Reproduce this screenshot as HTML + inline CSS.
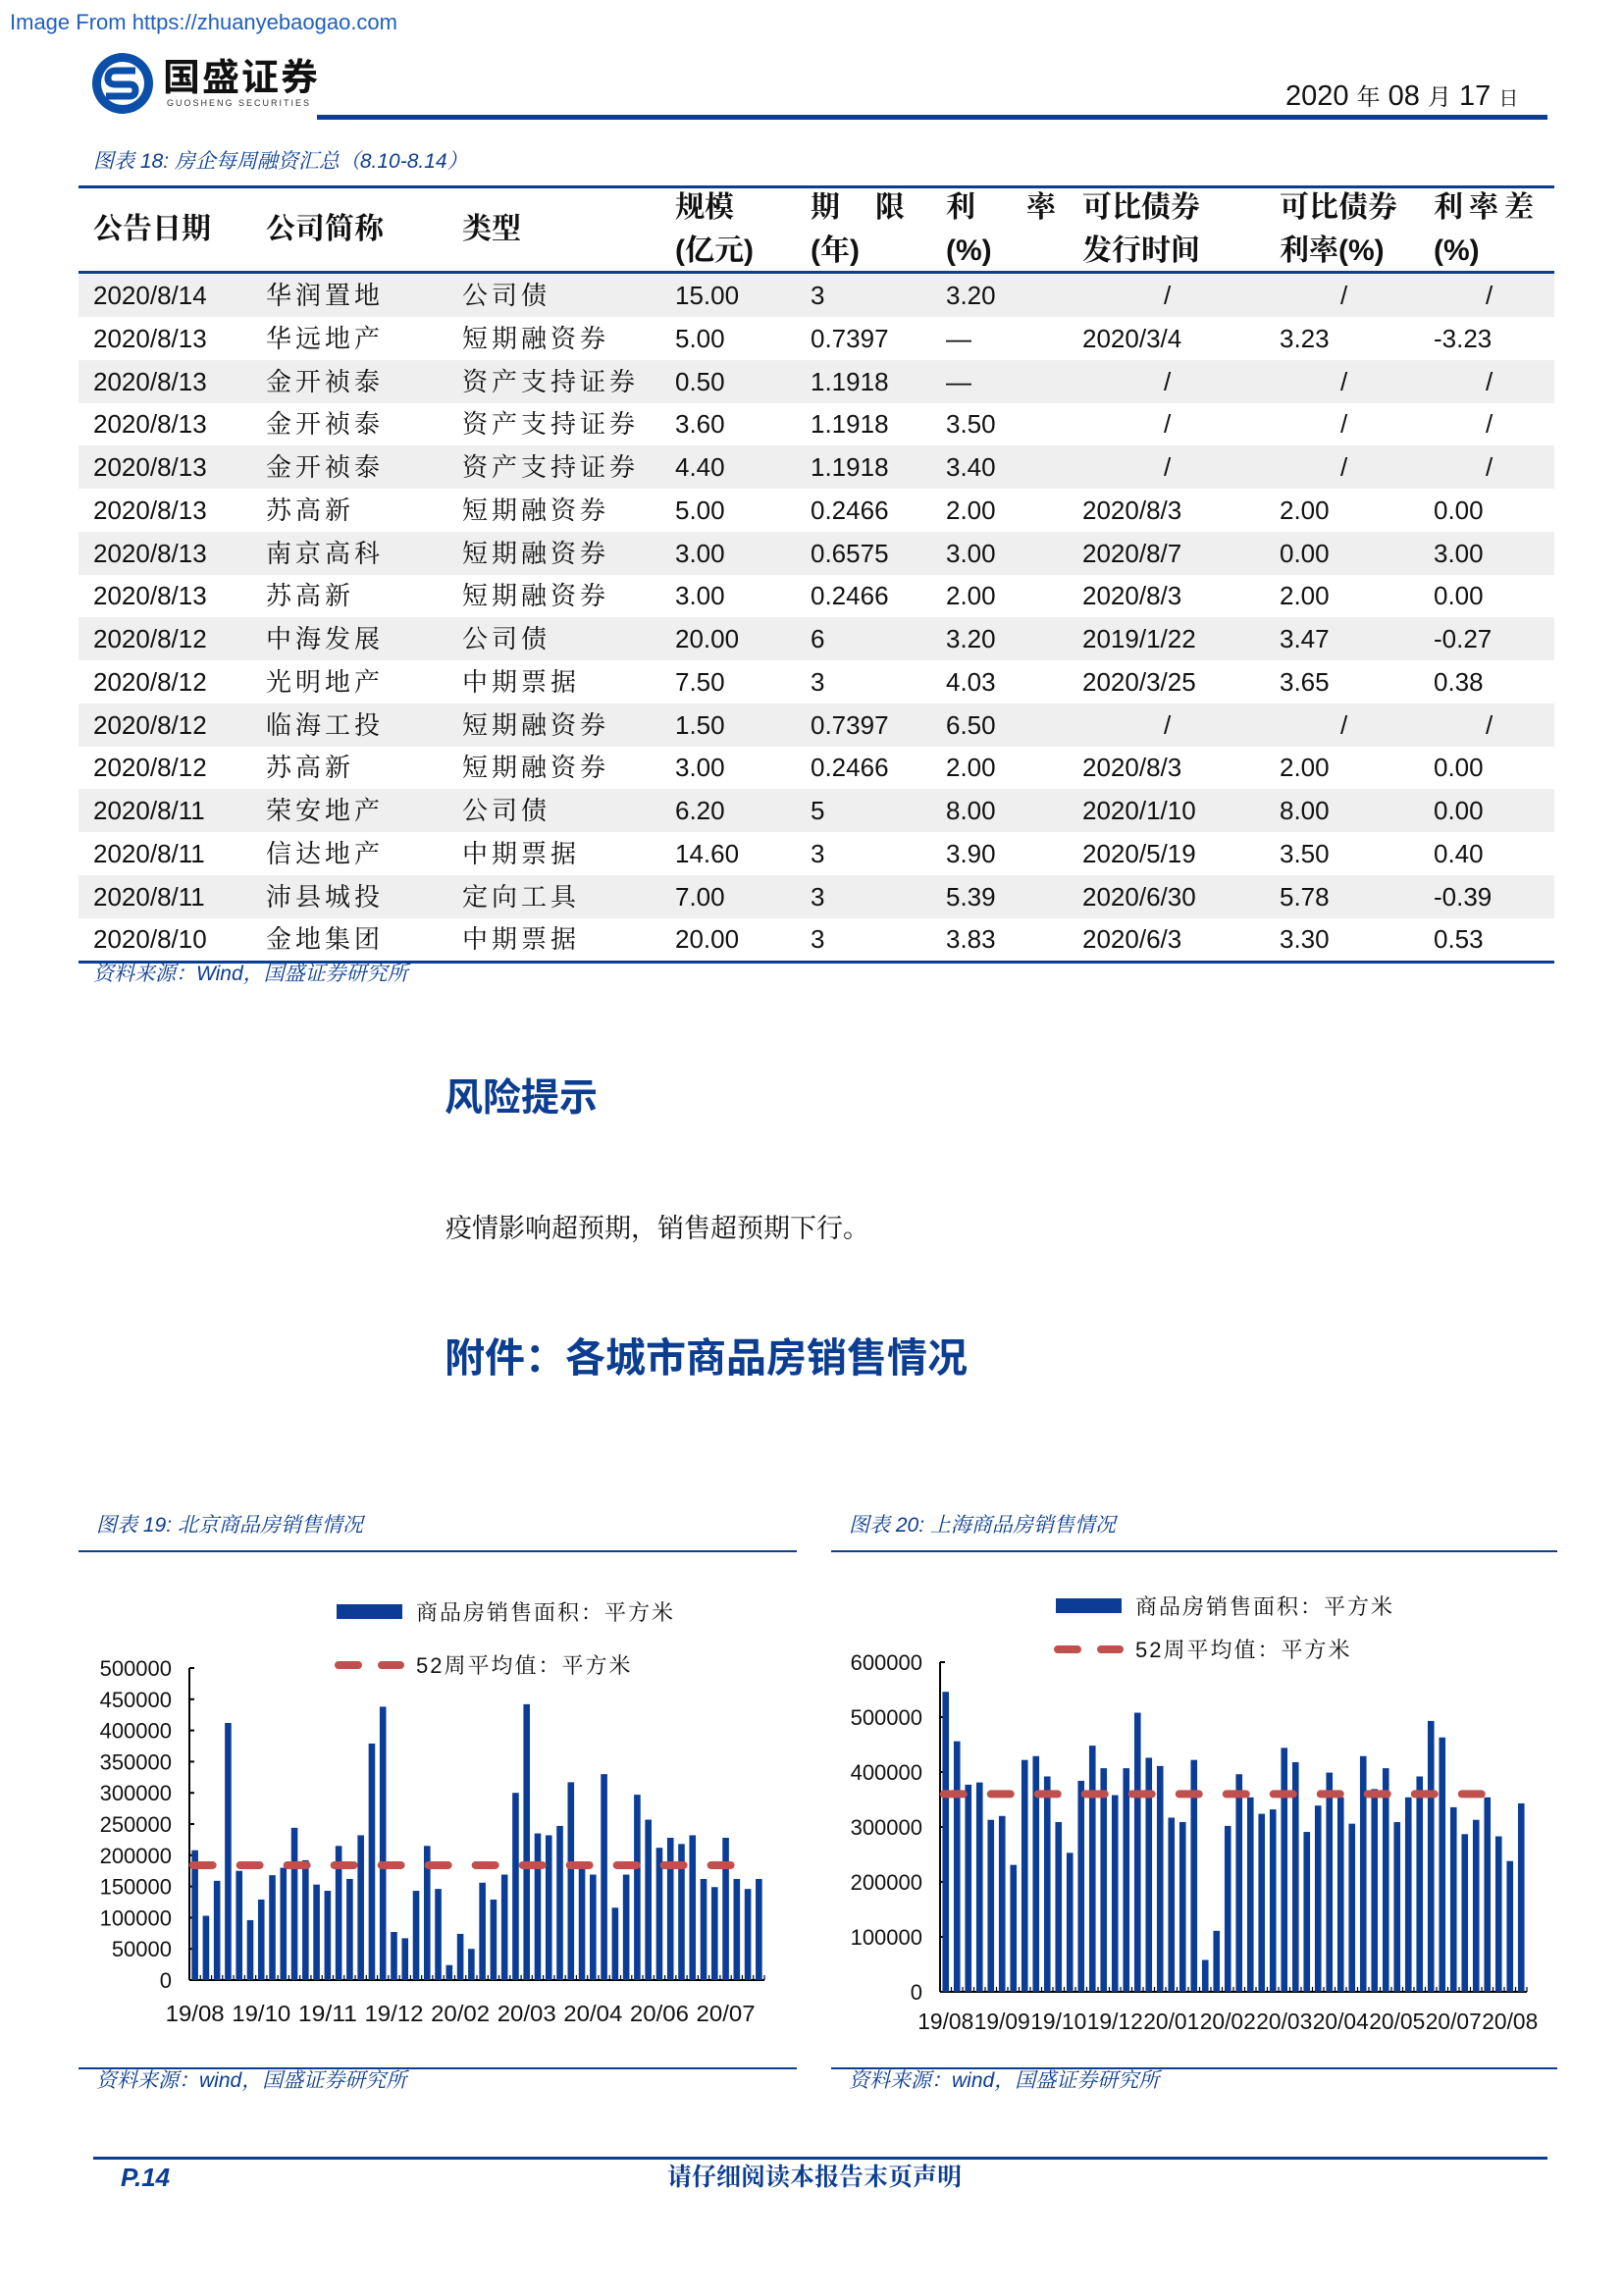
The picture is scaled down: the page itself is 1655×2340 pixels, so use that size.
<!DOCTYPE html>
<html><head><meta charset="utf-8">
<style>
body{margin:0;background:#fff;}
#page{position:relative;width:1655px;height:2340px;overflow:hidden;background:#fff;font-family:"Liberation Sans","Noto Serif CJK SC",serif;color:#111;}
.abs{position:absolute;white-space:nowrap;}
.cjk{font-family:"Liberation Sans","Noto Serif CJK SC",serif;}
.blue{color:#0b3d91;}
.row{position:absolute;left:80px;width:1504px;height:44px;}
.row.g{background:#efefef;}
.cell{position:absolute;top:0;line-height:44px;font-size:26px;white-space:nowrap;}
.hd{position:absolute;font-size:30px;font-weight:bold;white-space:nowrap;line-height:44px;}
</style></head>
<body>
<div id="page">
<div class="abs" style="left:10px;top:10px;font-size:22px;color:#1f5fbf;">Image From https://zhuanyebaogao.com</div>

<svg class="abs" style="left:92px;top:52px" width="66" height="66">
<circle cx="33" cy="33" r="31" fill="#0b4fa8"/>
<circle cx="33" cy="33" r="22" fill="#fff"/>
<path d="M46 20 H26 Q18 20 18 28 Q18 34 26 34 H40 Q46 34 46 40 Q46 46 40 46 H16" stroke="#0b4fa8" stroke-width="7" fill="none"/>
</svg>
<div class="abs" style="left:166px;top:54px;font-size:38px;font-weight:bold;color:#111;letter-spacing:2px;font-family:'Noto Sans CJK SC',sans-serif;line-height:44px">国盛证券</div>
<div class="abs" style="left:170px;top:100px;font-size:9px;letter-spacing:2px;color:#333">GUOSHENG SECURITIES</div>
<div class="abs" style="left:1310px;top:80px;font-size:29px;line-height:36px">2020 <span class="cjk" style="font-size:24px">年</span> 08 <span class="cjk" style="font-size:24px">月</span> 17 <span class="cjk" style="font-size:20px">日</span></div>
<div class="abs" style="left:323px;top:117px;width:1254px;height:5px;background:#0b3d91"></div>

<div class="abs blue" style="left:95px;top:150px;font-size:21px;font-style:italic;line-height:30px">图表 18: 房企每周融资汇总（8.10-8.14）</div>
<div class="abs" style="left:80px;top:189px;width:1504px;height:3px;background:#0b3d91"></div>

<div>
<div class="hd" style="left:95px;top:212px">公告日期</div>
<div class="hd" style="left:271px;top:212px">公司简称</div>
<div class="hd" style="left:471px;top:212px">类型</div>
<div class="hd" style="left:688px;top:190px">规模</div><div class="hd" style="left:688px;top:234px">(亿元)</div>
<div class="hd" style="left:826px;top:190px;letter-spacing:36px">期限</div><div class="hd" style="left:826px;top:234px">(年)</div>
<div class="hd" style="left:964px;top:190px;letter-spacing:52px">利率</div><div class="hd" style="left:964px;top:234px">(%)</div>
<div class="hd" style="left:1103px;top:190px">可比债券</div><div class="hd" style="left:1103px;top:234px">发行时间</div>
<div class="hd" style="left:1304px;top:190px">可比债券</div><div class="hd" style="left:1304px;top:234px">利率(%)</div>
<div class="hd" style="left:1461px;top:190px;letter-spacing:6px">利率差</div><div class="hd" style="left:1461px;top:234px">(%)</div>
</div>
<div class="abs" style="left:80px;top:276px;width:1504px;height:3px;background:#0b3d91"></div>
<div id="tbody"></div>
<div class="abs" style="left:80px;top:979px;width:1504px;height:3px;background:#0b3d91"></div>
<div class="abs blue" style="left:95px;top:978px;font-size:21px;font-style:italic;line-height:30px">资料来源：Wind，国盛证券研究所</div>

<div class="abs blue" style="left:453px;top:1092px;font-size:39px;font-weight:bold;line-height:48px;font-family:'Noto Sans CJK SC',sans-serif">风险提示</div>
<div class="abs" style="left:454px;top:1234px;font-size:27px;line-height:36px">疫情影响超预期，销售超预期下行。</div>
<div class="abs blue" style="left:453px;top:1354px;font-size:41px;font-weight:bold;line-height:52px;font-family:'Noto Sans CJK SC',sans-serif">附件：各城市商品房销售情况</div>

<div class="abs blue" style="left:98px;top:1540px;font-size:21px;font-style:italic;line-height:30px">图表 19: 北京商品房销售情况</div>
<div class="abs" style="left:80px;top:1580px;width:732px;height:2px;background:#0b3d91"></div>
<div class="abs blue" style="left:865px;top:1540px;font-size:21px;font-style:italic;line-height:30px">图表 20: 上海商品房销售情况</div>
<div class="abs" style="left:847px;top:1580px;width:740px;height:2px;background:#0b3d91"></div>

<svg id="charts" class="abs" style="left:0;top:0" width="1655" height="2340"></svg>

<div class="abs" style="left:80px;top:2107px;width:732px;height:2px;background:#0b3d91"></div>
<div class="abs blue" style="left:98px;top:2106px;font-size:21px;font-style:italic;line-height:30px">资料来源：wind，国盛证券研究所</div>
<div class="abs" style="left:847px;top:2107px;width:740px;height:2px;background:#0b3d91"></div>
<div class="abs blue" style="left:865px;top:2106px;font-size:21px;font-style:italic;line-height:30px">资料来源：wind，国盛证券研究所</div>

<div class="abs" style="left:95px;top:2198px;width:1482px;height:3px;background:#0b3d91"></div>
<div class="abs blue" style="left:123px;top:2203px;font-size:26px;font-weight:bold;font-style:italic;line-height:32px">P.14</div>
<div class="abs blue" style="left:680px;top:2203px;font-size:25px;font-weight:bold;line-height:32px">请仔细阅读本报告末页声明</div>
</div>

<script>
const tableRows = [
["2020/8/14","华润置地","公司债","15.00","3","3.20","/","/","/"],
["2020/8/13","华远地产","短期融资券","5.00","0.7397","—","2020/3/4","3.23","-3.23"],
["2020/8/13","金开祯泰","资产支持证券","0.50","1.1918","—","/","/","/"],
["2020/8/13","金开祯泰","资产支持证券","3.60","1.1918","3.50","/","/","/"],
["2020/8/13","金开祯泰","资产支持证券","4.40","1.1918","3.40","/","/","/"],
["2020/8/13","苏高新","短期融资券","5.00","0.2466","2.00","2020/8/3","2.00","0.00"],
["2020/8/13","南京高科","短期融资券","3.00","0.6575","3.00","2020/8/7","0.00","3.00"],
["2020/8/13","苏高新","短期融资券","3.00","0.2466","2.00","2020/8/3","2.00","0.00"],
["2020/8/12","中海发展","公司债","20.00","6","3.20","2019/1/22","3.47","-0.27"],
["2020/8/12","光明地产","中期票据","7.50","3","4.03","2020/3/25","3.65","0.38"],
["2020/8/12","临海工投","短期融资券","1.50","0.7397","6.50","/","/","/"],
["2020/8/12","苏高新","短期融资券","3.00","0.2466","2.00","2020/8/3","2.00","0.00"],
["2020/8/11","荣安地产","公司债","6.20","5","8.00","2020/1/10","8.00","0.00"],
["2020/8/11","信达地产","中期票据","14.60","3","3.90","2020/5/19","3.50","0.40"],
["2020/8/11","沛县城投","定向工具","7.00","3","5.39","2020/6/30","5.78","-0.39"],
["2020/8/10","金地集团","中期票据","20.00","3","3.83","2020/6/3","3.30","0.53"]
];
const colX=[15,191,391,608,746,884,1023,1224,1381];
const slashX=[1106,1286,1434];
const tb=document.getElementById('tbody');
tableRows.forEach((r,i)=>{
  const row=document.createElement('div');
  row.className='row'+(i%2===0?' g':'');
  row.style.top=(279+i*43.75)+'px';
  
  
  r.forEach((v,j)=>{
    const c=document.createElement('div');
    c.className='cell';
    let x=colX[j];
    if(v==='/'&&j>=6) x=slashX[j-6];
    if(j>=1&&j<=2){c.style.letterSpacing='4px';}
    c.style.left=x+'px';
    c.textContent=v;
    
    
    row.appendChild(c);
  });
  tb.appendChild(row);
});

// ---- chart data ----
const bjValues=[208,103,159,412,175,96,129,168,180,244,192,153,143,215,162,232,379,438,77,67,143,215,146,24,74,50,156,129,169,300,442,235,232,247,317,178,169,330,116,169,297,257,212,228,218,232,162,149,228,162,146,162].map(v=>v*1000);
const bjAvg=184000;
const bjTicks=[0,50000,100000,150000,200000,250000,300000,350000,400000,450000,500000];
const bjXLabels=["19/08","19/10","19/11","19/12","20/02","20/03","20/04","20/06","20/07"];
const bjLabelEvery=6;

const shValues=[546,456,377,381,313,320,231,422,429,392,309,253,384,448,407,358,407,508,426,411,317,309,422,58,111,302,396,354,324,332,444,418,291,339,399,354,306,429,369,407,309,354,392,493,463,336,287,313,354,283,238,343].map(v=>v*1000);
const shAvg=360000;
const shTicks=[0,100000,200000,300000,400000,500000,600000];
const shXLabels=["19/08","19/09","19/10","19/12","20/01","20/02","20/03","20/04","20/05","20/07","20/08"];
const shLabelEvery=5;

const NS='http://www.w3.org/2000/svg';
const svg=document.getElementById('charts');
function mk(tag,attrs,parent){const e=document.createElementNS(NS,tag);for(const k in attrs)e.setAttribute(k,attrs[k]);(parent||svg).appendChild(e);return e;}

function drawChart(cfg){
  const g=mk('g',{});
  
  
  const yScale=v=>cfg.y0-(v/cfg.ymax)*(cfg.y0-cfg.ytop);
  const n=cfg.values.length;
  const step=(cfg.x1-cfg.x0)/n;
  const xScale=i=>cfg.x0+step*(i+0.5);
  const ya=mk('line',{x1:cfg.x0,y1:cfg.ytop,x2:cfg.x0,y2:cfg.y0,stroke:'#000','stroke-width':2},g);
  
  const xa=mk('line',{x1:cfg.x0,y1:cfg.y0,x2:cfg.x1,y2:cfg.y0,stroke:'#000','stroke-width':2},g);
  
  cfg.ticks.forEach(t=>{
    const y=yScale(t);
    mk('line',{x1:cfg.x0,y1:y,x2:cfg.x0+5,y2:y,stroke:'#000','stroke-width':2},g);
    const tx=mk('text',{x:cfg.x0-18,y:y+8,'text-anchor':'end','font-size':22,'font-family':'Liberation Sans',fill:'#111'},g);
    tx.textContent=t;
    
  });
  for(let i=0;i<=n;i++){const x=cfg.x0+step*i;mk('line',{x1:x,y1:cfg.y0,x2:x,y2:cfg.y0-5,stroke:'#000','stroke-width':1.2},g);}
  cfg.values.forEach((v,i)=>{
    const y=yScale(v);
    const b=mk('rect',{x:xScale(i)-3.3,y:y,width:6.6,height:cfg.y0-y,fill:'#0b3d96'},g);
    
  });
  const ay=yScale(cfg.avg);
  const al=mk('line',{x1:xScale(0)-2,y1:ay,x2:xScale(n-3)+4,y2:ay,stroke:'#c0504d','stroke-width':8,'stroke-dasharray':'20 28','stroke-linecap':'round'},g);
  
  cfg.xlabels.forEach((l,k)=>{
    const t=mk('text',{x:xScale(k*cfg.every),y:cfg.labelY,'text-anchor':'middle','font-size':23,'font-family':'Liberation Sans',fill:'#111',textLength:cfg.labelW,lengthAdjust:'spacingAndGlyphs'},g);
    t.textContent=l;
    
  });
  const sw=mk('rect',{x:cfg.legX,y:cfg.legY1-8,width:67,height:15,fill:'#0b3d96'},g);
  
  const t1=mk('text',{x:cfg.legX+81,y:cfg.legY1+8,'font-size':22,'font-family':'Liberation Sans, Noto Serif CJK SC, serif',fill:'#111','letter-spacing':2},g);
  t1.textContent='商品房销售面积：平方米';
  
  const dl=mk('line',{x1:cfg.legX+2,y1:cfg.legY2,x2:cfg.legX+65,y2:cfg.legY2,stroke:'#c0504d','stroke-width':8,'stroke-dasharray':'20 24','stroke-linecap':'round'},g);
  
  const t2=mk('text',{x:cfg.legX+81,y:cfg.legY2+8,'font-size':22,'font-family':'Liberation Sans, Noto Serif CJK SC, serif',fill:'#111','letter-spacing':2},g);
  t2.textContent='52周平均值：平方米';
  
}
drawChart({name:'beijing-chart',values:bjValues,avg:bjAvg,ticks:bjTicks,ymax:500000,xlabels:bjXLabels,every:bjLabelEvery,
  x0:193,x1:779,y0:2018,ytop:1700,labelY:2060,labelW:60,legX:343,legY1:1643,legY2:1697});
drawChart({name:'shanghai-chart',values:shValues,avg:shAvg,ticks:shTicks,ymax:600000,xlabels:shXLabels,every:shLabelEvery,
  x0:958,x1:1556,y0:2030,ytop:1694,labelY:2068,labelW:57,legX:1076,legY1:1637,legY2:1681});
</script>
</body></html>
